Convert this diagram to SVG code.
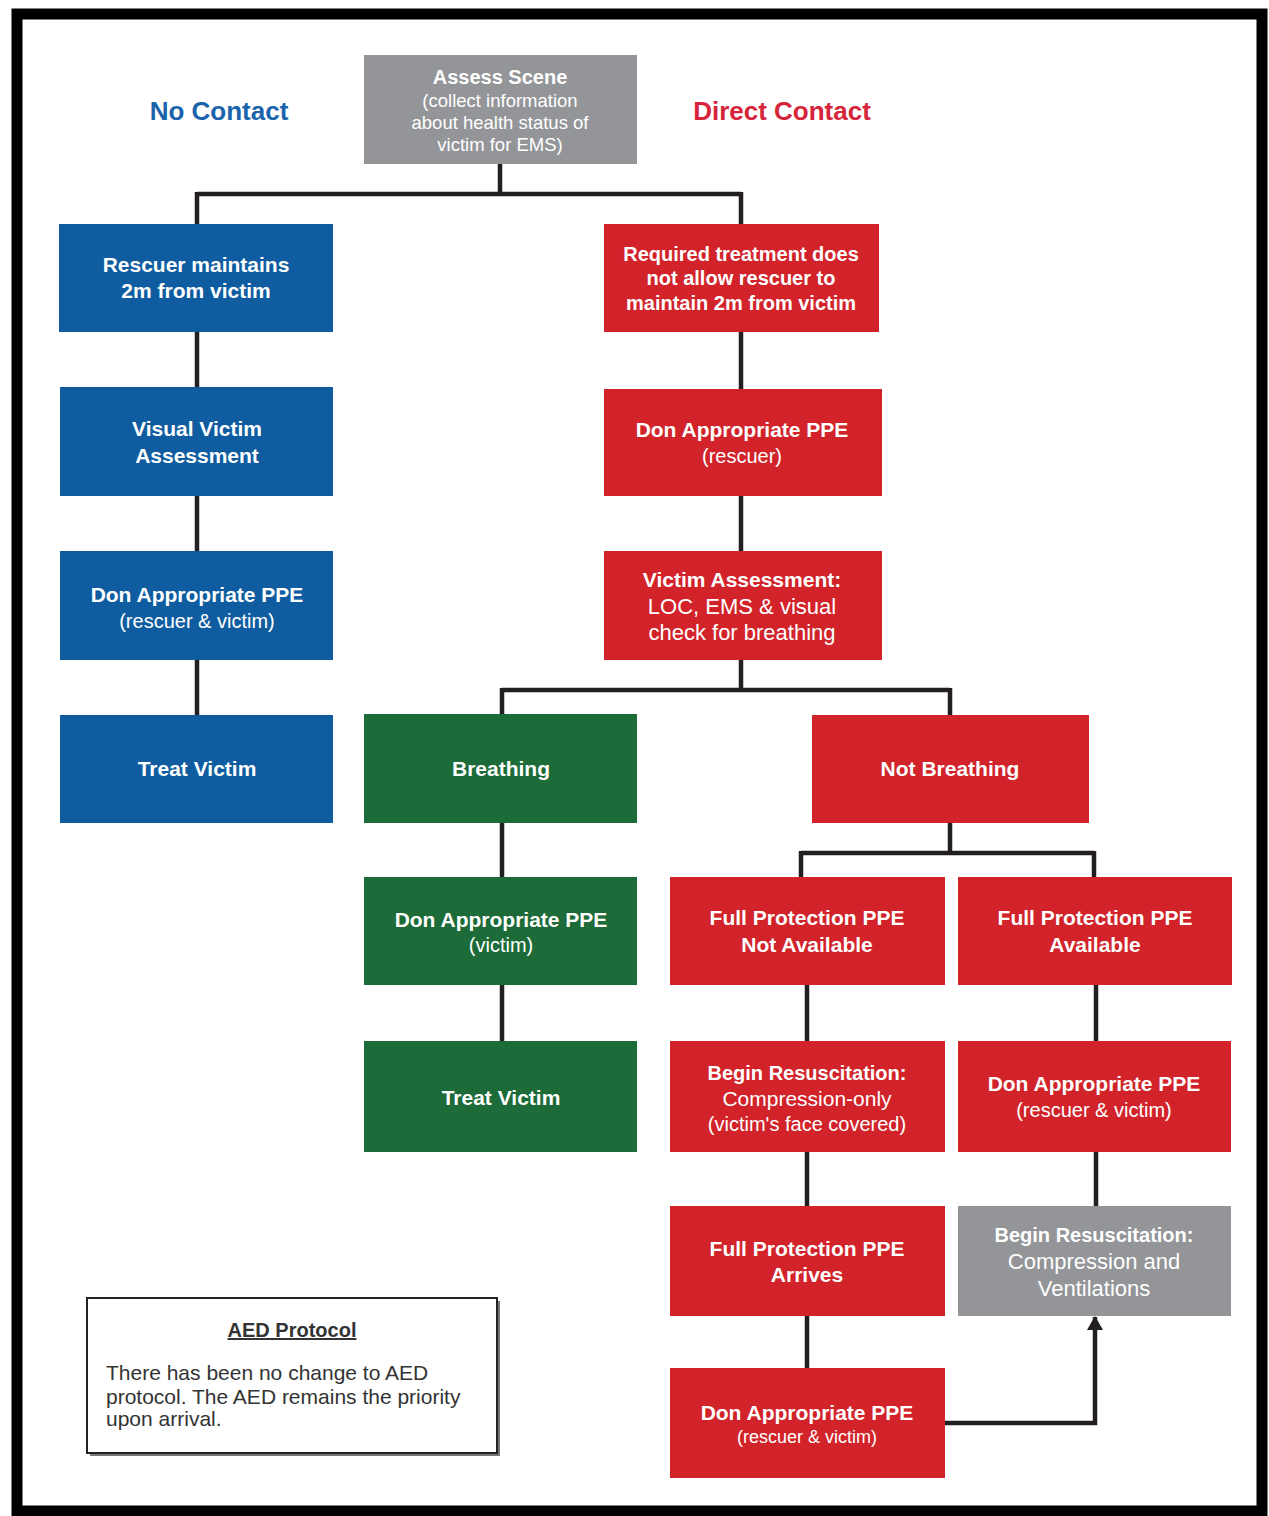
<svg xmlns="http://www.w3.org/2000/svg" width="1269" height="1516" viewBox="0 0 1269 1516">
<defs>
<style>
.blue{fill:#0f5da0}
.red{fill:#d2232a}
.green{fill:#1c6b38}
.gray{fill:#939598}
.t{font-family:"Liberation Sans",Arial,sans-serif;fill:#ffffff;text-anchor:middle}
.b{font-weight:bold;font-size:21px}
.r{font-size:20px}
.c{fill:none;stroke:#231f20;stroke-width:4.5}
.hdr{font-family:"Liberation Sans",Arial,sans-serif;font-weight:bold;font-size:26px;text-anchor:middle}
</style>
<marker id="ah" viewBox="0 0 14 16" refX="13" refY="8" markerWidth="14" markerHeight="16" orient="auto" markerUnits="userSpaceOnUse">
<path d="M0,0 L14,8 L0,16 z" fill="#231f20"/>
</marker>
</defs>
<rect x="0" y="0" width="1269" height="1516" fill="#ffffff"/>
<rect x="17" y="14" width="1245" height="1497" fill="none" stroke="#000" stroke-width="11"/>

<text class="hdr" x="219" y="120" fill="#1a64ac">No Contact</text>
<text class="hdr" x="782" y="120" fill="#d6253a">Direct Contact</text>

<g id="connectors">
<path class="c" d="M500,164 V194 M197,194 H741 M197,192 V224 M741,192 V224"/>
<path class="c" d="M197,332 V387 M197,496 V551 M197,660 V715"/>
<path class="c" d="M741,332 V389 M741,496 V551 M741,660 V690 M502,690 H950 M502,688 V714 M950,688 V715"/>
<path class="c" d="M502,823 V877 M502,985 V1041"/>
<path class="c" d="M950,823 V853 M801,853 H1094 M801,851 V877 M1094,851 V877"/>
<path class="c" d="M807,985 V1041 M807,1152 V1206 M807,1316 V1368"/>
<path class="c" d="M1096,985 V1041 M1096,1152 V1206"/>
<path class="c" d="M945,1423 H1095 V1317" stroke-width="5.5" marker-end="url(#ah)"/>
</g>

<g id="assess-scene">
<rect class="gray" x="364" y="55" width="273" height="109"/>
<text class="t" x="500" y="84" font-weight="bold" font-size="20">Assess Scene</text>
<text class="t" x="500" y="107" font-size="18.5">(collect information</text>
<text class="t" x="500" y="129" font-size="18.5">about health status of</text>
<text class="t" x="500" y="151" font-size="18.5">victim for EMS)</text>
</g>

<g id="rescuer-2m">
<rect class="blue" x="59" y="224" width="274" height="108"/>
<text class="t b" x="196" y="272">Rescuer maintains</text>
<text class="t b" x="196" y="298">2m from victim</text>
</g>

<g id="required-treatment">
<rect class="red" x="604" y="224" width="275" height="108"/>
<text class="t" x="741" y="261" font-weight="bold" font-size="20">Required treatment does</text>
<text class="t" x="741" y="285" font-weight="bold" font-size="20">not allow rescuer to</text>
<text class="t" x="741" y="310" font-weight="bold" font-size="20">maintain 2m from victim</text>
</g>

<g id="visual-assessment">
<rect class="blue" x="60" y="387" width="273" height="109"/>
<text class="t b" x="197" y="436">Visual Victim</text>
<text class="t b" x="197" y="463">Assessment</text>
</g>

<g id="don-ppe-rescuer">
<rect class="red" x="604" y="389" width="278" height="107"/>
<text class="t b" x="742" y="437">Don Appropriate PPE</text>
<text class="t r" x="742" y="463">(rescuer)</text>
</g>

<g id="don-ppe-blue">
<rect class="blue" x="60" y="551" width="273" height="109"/>
<text class="t b" x="197" y="602">Don Appropriate PPE</text>
<text class="t r" x="197" y="628">(rescuer &amp; victim)</text>
</g>

<g id="victim-assessment">
<rect class="red" x="604" y="551" width="278" height="109"/>
<text class="t b" x="742" y="587">Victim Assessment:</text>
<text class="t" x="742" y="614" font-size="22">LOC, EMS &amp; visual</text>
<text class="t" x="742" y="640" font-size="22">check for breathing</text>
</g>

<g id="treat-victim-blue">
<rect class="blue" x="60" y="715" width="273" height="108"/>
<text class="t b" x="197" y="776">Treat Victim</text>
</g>

<g id="breathing">
<rect class="green" x="364" y="714" width="273" height="109"/>
<text class="t b" x="501" y="776">Breathing</text>
</g>

<g id="not-breathing">
<rect class="red" x="812" y="715" width="277" height="108"/>
<text class="t b" x="950" y="776">Not Breathing</text>
</g>

<g id="don-ppe-victim">
<rect class="green" x="364" y="877" width="273" height="108"/>
<text class="t b" x="501" y="927">Don Appropriate PPE</text>
<text class="t r" x="501" y="952">(victim)</text>
</g>

<g id="full-ppe-not-available">
<rect class="red" x="670" y="877" width="275" height="108"/>
<text class="t b" x="807" y="925">Full Protection PPE</text>
<text class="t b" x="807" y="952">Not Available</text>
</g>

<g id="full-ppe-available">
<rect class="red" x="958" y="877" width="274" height="108"/>
<text class="t b" x="1095" y="925">Full Protection PPE</text>
<text class="t b" x="1095" y="952">Available</text>
</g>

<g id="treat-victim-green">
<rect class="green" x="364" y="1041" width="273" height="111"/>
<text class="t b" x="501" y="1105">Treat Victim</text>
</g>

<g id="compression-only">
<rect class="red" x="670" y="1041" width="275" height="111"/>
<text class="t" x="807" y="1080" font-weight="bold" font-size="20">Begin Resuscitation:</text>
<text class="t" x="807" y="1106" font-size="21">Compression-only</text>
<text class="t" x="807" y="1131" font-size="20">(victim's face covered)</text>
</g>

<g id="don-ppe-right">
<rect class="red" x="958" y="1041" width="273" height="111"/>
<text class="t b" x="1094" y="1091">Don Appropriate PPE</text>
<text class="t r" x="1094" y="1117">(rescuer &amp; victim)</text>
</g>

<g id="full-ppe-arrives">
<rect class="red" x="670" y="1206" width="275" height="110"/>
<text class="t b" x="807" y="1256">Full Protection PPE</text>
<text class="t b" x="807" y="1282">Arrives</text>
</g>

<g id="compression-ventilations">
<rect class="gray" x="958" y="1206" width="273" height="110"/>
<text class="t" x="1094" y="1242" font-weight="bold" font-size="20">Begin Resuscitation:</text>
<text class="t" x="1094" y="1269" font-size="22">Compression and</text>
<text class="t" x="1094" y="1296" font-size="22">Ventilations</text>
</g>

<g id="don-ppe-bottom">
<rect class="red" x="670" y="1368" width="275" height="110"/>
<text class="t b" x="807" y="1420">Don Appropriate PPE</text>
<text class="t" x="807" y="1443" font-size="18">(rescuer &amp; victim)</text>
</g>

<g id="aed-protocol">
<rect x="90" y="1301" width="410" height="155" fill="#777"/>
<rect x="87" y="1298" width="410" height="155" fill="#fff" stroke="#222" stroke-width="2"/>
<text x="292" y="1337" font-family="'Liberation Sans',Arial,sans-serif" font-weight="bold" font-size="20" fill="#333" text-anchor="middle" text-decoration="underline">AED Protocol</text>
<text font-family="'Liberation Sans',Arial,sans-serif" font-size="21" fill="#333">
<tspan x="106" y="1380">There has been no change to AED</tspan>
<tspan x="106" y="1404">protocol. The AED remains the priority</tspan>
<tspan x="106" y="1426">upon arrival.</tspan>
</text>
</g>
</svg>
